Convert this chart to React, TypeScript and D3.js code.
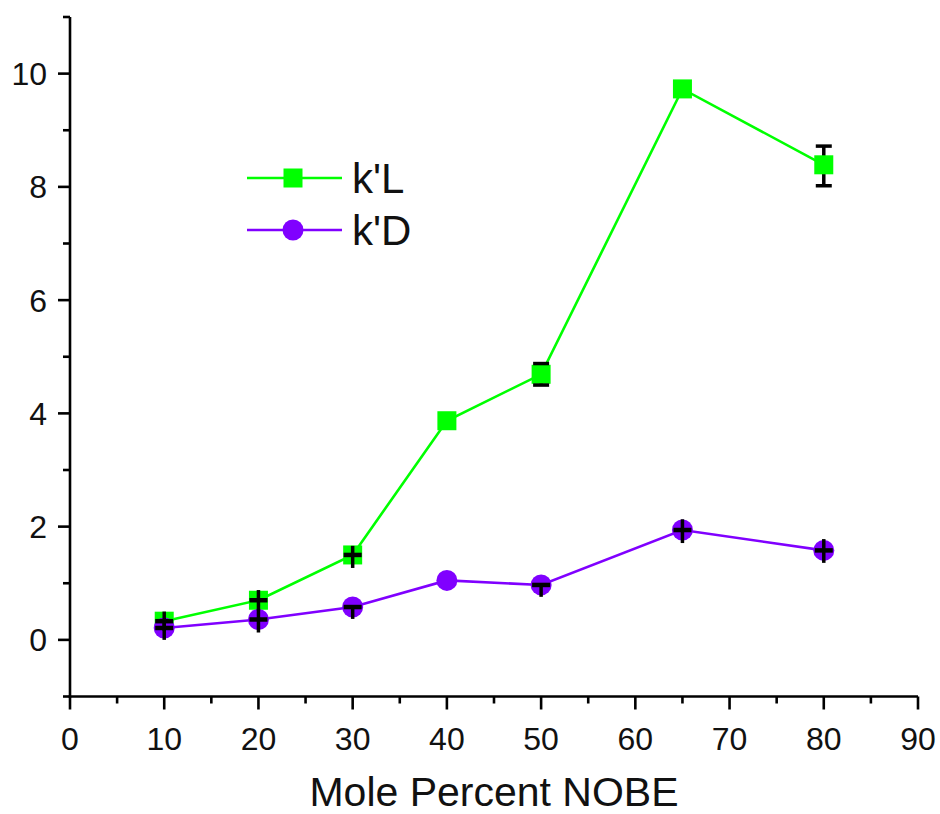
import React, { useEffect } from 'react';
import * as d3 from 'd3';

// mole percent NOBE
const molePercent = [10, 20, 30, 40, 50, 65, 80];

// k'L series + error bars
const kL = [0.33, 0.7, 1.5, 3.87, 4.69, 9.73, 8.39];
const kLErrUp = [0.17, 0.18, 0.16, 0, 0.19, 0, 0.33];
const kLErrDown = [0.17, 0.18, 0.23, 0, 0.19, 0, 0.37];
const kLErrKind = ['cross', 'cross', 'cross', 'none', 'cap', 'none', 'cap'];

// k'D series + error bars
const kD = [0.21, 0.36, 0.58, 1.05, 0.97, 1.94, 1.58];
const kDErrUp = [0.15, 0.18, 0, 0, 0, 0.19, 0.2];
const kDErrDown = [0.21, 0.23, 0.21, 0, 0.21, 0.23, 0.22];
const kDErrKind = ['cross', 'cross', 'cross', 'none', 'cross', 'cross', 'cross'];

const xTicks = [0, 10, 20, 30, 40, 50, 60, 70, 80, 90];
const xMinor = [5, 15, 25, 35, 45, 55, 65, 75, 85];
const yTicks = [0, 2, 4, 6, 8, 10];
const yMinor = [-1, 1, 3, 5, 7, 9, 11];

const GREEN = '#00ff00';
const PURPLE = '#8000ff';
const FONT = '"Liberation Sans", Arial, sans-serif';

const App = () => {
   useEffect(() => {
      document.body.style.margin = '0';
   }, []);

   const width = 940;
   const height = 814;

   const x = d3.scaleLinear().domain([0, 90]).range([70, 918]);
   const y = d3.scaleLinear().domain([-1, 11]).range([696.5, 17]);

   const line = d3.line<number>()
      .x((d, i) => x(molePercent[i]))
      .y(d => y(d));

   const series = [
      { name: "k'L", values: kL, up: kLErrUp, down: kLErrDown, kind: kLErrKind, color: GREEN, shape: 'square' },
      { name: "k'D", values: kD, up: kDErrUp, down: kDErrDown, kind: kDErrKind, color: PURPLE, shape: 'circle' },
   ];

   const marker = (shape, color, cx, cy, key) =>
      shape === 'square'
         ? <rect key={key} x={cx - 9.5} y={cy - 9.5} width={19} height={19} fill={color} />
         : <circle key={key} cx={cx} cy={cy} r={10.5} fill={color} />;

   return (
      <svg width={width} height={height} style={{ display: 'block', background: '#fff' }}>
         {/* axes */}
         <g stroke="#000" strokeWidth={2.6} fill="none">
            <line x1={70} x2={70} y1={y(11)} y2={y(-1) + 1.3} />
            <line x1={68.7} x2={918} y1={y(-1)} y2={y(-1)} />
            {yTicks.map(t => <line key={'ym' + t} x1={58} x2={70} y1={y(t)} y2={y(t)} />)}
            {yMinor.map(t => <line key={'yn' + t} x1={63} x2={70} y1={y(t)} y2={y(t)} />)}
            {xTicks.map(t => <line key={'xm' + t} x1={x(t)} x2={x(t)} y1={y(-1)} y2={y(-1) + 13} />)}
            {xMinor.map(t => <line key={'xn' + t} x1={x(t)} x2={x(t)} y1={y(-1)} y2={y(-1) + 7} />)}
         </g>
         <g fontFamily={FONT} fontSize={32} fill="#111">
            {yTicks.map(t => (
               <text key={'yl' + t} x={47} y={y(t)} dy="0.36em" textAnchor="end">{t}</text>
            ))}
            {xTicks.map(t => (
               <text key={'xl' + t} x={x(t)} y={750} textAnchor="middle">{t}</text>
            ))}
         </g>
         <text x={(305 + 683) / 2} y={806} textAnchor="middle" fontFamily={FONT} fontSize={41} fill="#111">
            Mole Percent NOBE
         </text>

         {/* lines */}
         {series.map(s => (
            <path key={s.name + 'l'} d={line(s.values)} fill="none" stroke={s.color} strokeWidth={2.6} />
         ))}

         {/* capped error bar stems go under the markers */}
         {series.map(s => s.values.map((v, i) => s.kind[i] === 'cap' && (
            <line key={s.name + 'st' + i} x1={x(molePercent[i])} x2={x(molePercent[i])}
               y1={y(v + s.up[i])} y2={y(v - s.down[i])} stroke="#000" strokeWidth={3.5} />
         )))}

         {/* markers */}
         {series.map(s => s.values.map((v, i) => marker(s.shape, s.color, x(molePercent[i]), y(v), s.name + 'm' + i)))}

         {/* error bars on top */}
         {series.map(s => s.values.map((v, i) => {
            const cx = x(molePercent[i]);
            if (s.kind[i] === 'cap') {
               return (
                  <g key={s.name + 'e' + i} stroke="#000" strokeWidth={3.5}>
                     <line x1={cx - 8} x2={cx + 8} y1={y(v + s.up[i])} y2={y(v + s.up[i])} />
                     <line x1={cx - 8} x2={cx + 8} y1={y(v - s.down[i])} y2={y(v - s.down[i])} />
                  </g>
               );
            }
            if (s.kind[i] === 'cross') {
               return (
                  <g key={s.name + 'e' + i} stroke="#000">
                     <line x1={cx} x2={cx} y1={y(v + s.up[i])} y2={y(v - s.down[i])} strokeWidth={3.5} />
                     <line x1={cx - 9} x2={cx + 9} y1={y(v)} y2={y(v)} strokeWidth={4.5} />
                  </g>
               );
            }
            return null;
         }))}

         {/* legend */}
         {series.map((s, i) => {
            const ly = 178 + i * 52;
            return (
               <g key={s.name + 'lg'}>
                  <line x1={247} x2={342} y1={ly} y2={ly} stroke={s.color} strokeWidth={2.6} />
                  {marker(s.shape, s.color, 293, ly, s.name + 'lm')}
                  <text x={352} y={ly} dy="0.36em" fontFamily={FONT} fontSize={42} fill="#111">{s.name}</text>
               </g>
            );
         })}
      </svg>
   );
};

export default App;
